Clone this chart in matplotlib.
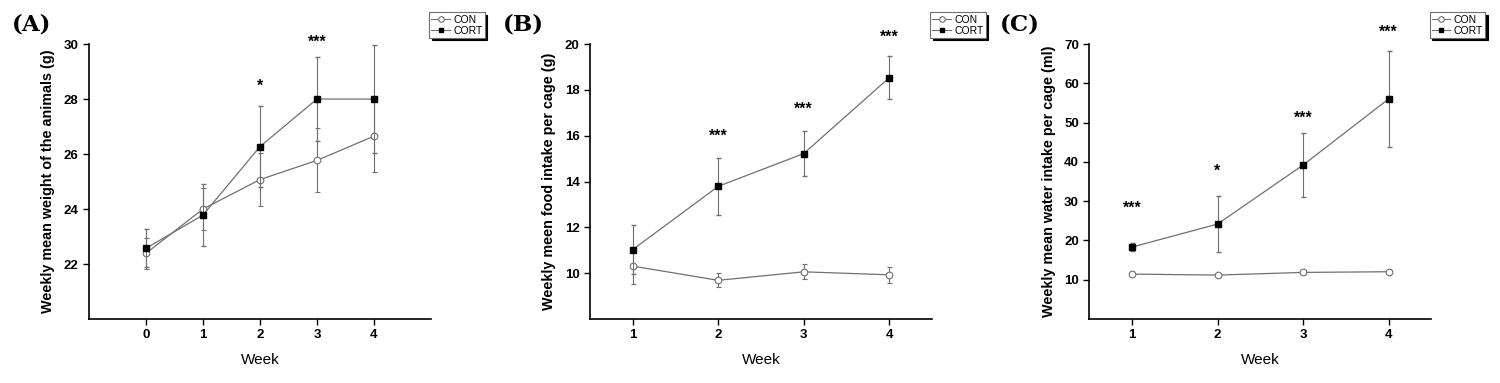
# Weekly weight, food and water intake: CON vs CORT
import matplotlib
matplotlib.use("Agg")
import matplotlib.pyplot as plt
from matplotlib.lines import Line2D

plt.rcParams['font.family'] = ['Liberation Sans', 'DejaVu Sans']

# (A) body weight
weeks_a = [0, 1, 2, 3, 4]
con_a = [22.39, 24.0, 25.07, 25.77, 26.65]
con_a_err = [0.57, 0.75, 0.95, 1.16, 1.30]
cort_a = [22.57, 23.78, 26.27, 28.0, 28.0]
cort_a_err = [0.69, 1.12, 1.48, 1.52, 1.95]
stars_a = [(2, 28.45, '*'), (3, 30.08, '***')]

# (B) food intake
weeks_b = [1, 2, 3, 4]
con_b = [10.31, 9.69, 10.06, 9.93]
con_b_err = [0.79, 0.31, 0.33, 0.35]
cort_b = [11.03, 13.79, 15.22, 18.53]
cort_b_err = [1.06, 1.24, 0.99, 0.93]
stars_b = [(2, 15.97, '***'), (3, 17.14, '***'), (4, 20.29, '***')]

# (C) water intake
weeks_c = [1, 2, 3, 4]
con_c = [11.44, 11.19, 11.87, 12.04]
con_c_err = [0.4, 0.4, 0.5, 0.4]
cort_c = [18.32, 24.18, 39.2, 56.0]
cort_c_err = [1.1, 7.1, 8.15, 12.2]
stars_c = [(1, 28.2, '***'), (2, 37.5, '*'), (3, 51.1, '***'), (4, 73.1, '***')]

fig = plt.figure(figsize=(15, 3.83), dpi=100)

panels = [
    ('(A)', 0.0593, weeks_a, con_a, con_a_err, cort_a, cort_a_err, stars_a,
     (-1, 5), (20, 30), [22, 24, 26, 28, 30], 'Weekly mean weight of the animals (g)', 0.008),
    ('(B)', 0.3933, weeks_b, con_b, con_b_err, cort_b, cort_b_err, stars_b,
     (0.5, 4.5), (8, 20), [10, 12, 14, 16, 18, 20], 'Weekly meen food intake per cage (g)', 0.335),
    ('(C)', 0.7262, weeks_c, con_c, con_c_err, cort_c, cort_c_err, stars_c,
     (0.5, 4.5), (0, 70), [10, 20, 30, 40, 50, 60, 70], 'Weekly mean water intake per cage (ml)', 0.6665),
]

grey = '#707070'
for (lab, left, wk, con, cerr, cort, terr, stars, xl, yl, yt, ylab, lx) in panels:
    ax = fig.add_axes([left, 0.167, 0.228, 0.718])
    ax.errorbar(wk, con, yerr=cerr, color=grey, lw=0.9, marker='o', ms=4.8,
                mfc='white', mec=grey, mew=0.8, capsize=1.8, elinewidth=0.8,
                ecolor=grey, zorder=3)
    ax.errorbar(wk, cort, yerr=terr, color=grey, lw=0.9, marker='s', ms=4,
                mfc='black', mec='black', capsize=1.8, elinewidth=0.8,
                ecolor=grey, zorder=4)
    for x, y, s in stars:
        ax.text(x, y, s, ha='center', va='center', fontsize=11.5,
                fontweight='bold', clip_on=False)
    ax.set_xlim(*xl)
    ax.set_ylim(*yl)
    ax.set_xticks(wk)
    ax.set_yticks(yt)
    ax.spines['top'].set_visible(False)
    ax.spines['right'].set_visible(False)
    ax.spines['left'].set_linewidth(1.2)
    ax.spines['bottom'].set_linewidth(1.2)
    ax.tick_params(direction='out', length=4, width=1, labelsize=9.5)
    for t in ax.get_xticklabels() + ax.get_yticklabels():
        t.set_fontweight('bold')
    ax.set_xlabel('Week', fontsize=11, labelpad=8)
    ax.set_ylabel(ylab, fontsize=10.4, fontweight='bold', labelpad=6)
    handles = [
        Line2D([], [], color=grey, lw=0.8, marker='o', ms=4, mfc='white', mec=grey, mew=0.8),
        Line2D([], [], color=grey, lw=0.8, marker='s', ms=3.5, mfc='black', mec='black'),
    ]
    leg = ax.legend(handles, ['CON', 'CORT'], loc='upper left',
                    bbox_to_anchor=(0.995, 1.115),
                    fontsize=7.5, frameon=True, fancybox=False,
                    shadow={'color': 'black', 'alpha': 1},
                    handlelength=1.8, handletextpad=0.3, borderpad=0.2,
                    labelspacing=0.1, borderaxespad=0)
    leg.get_frame().set_edgecolor(grey)
    leg.get_frame().set_linewidth(0.8)
    fig.text(lx, 0.965, lab, fontsize=16.5, family='DejaVu Serif',
             fontweight='bold', va='top', ha='left')

fig.savefig('out.png', dpi=100)
